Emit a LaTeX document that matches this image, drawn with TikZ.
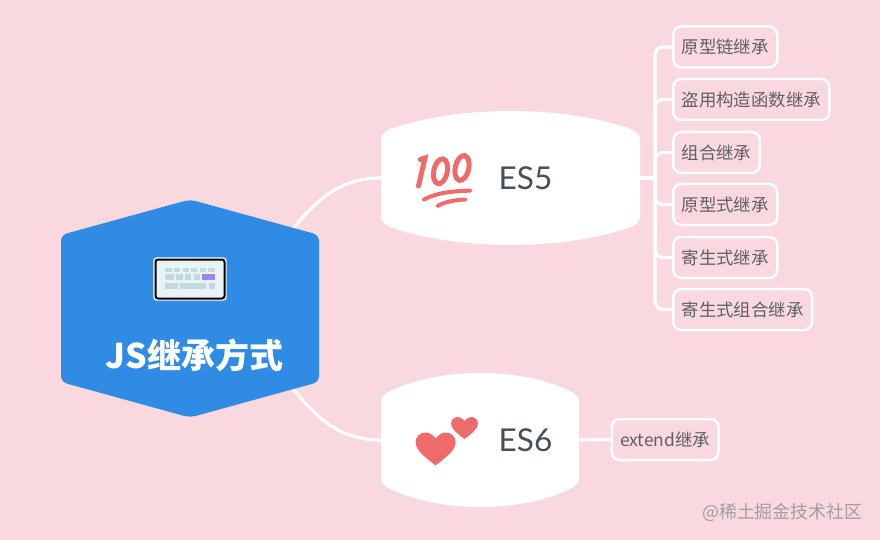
\documentclass[tikz,border=0pt]{standalone}
\usepackage{fontspec}
\usetikzlibrary{backgrounds}
\setmainfont{Lato}
\newfontfamily\cjk{Noto Sans CJK SC}
\definecolor{pagepink}{HTML}{F9D8DF}
\definecolor{rootblue}{HTML}{2F8BE4}
\definecolor{esgray}{HTML}{464F5C}
\definecolor{leafgray}{HTML}{5F5F66}
\definecolor{markgray}{HTML}{A39CA3}
\definecolor{iconred}{HTML}{F06A6A}
\definecolor{keyface}{HTML}{E9F3F3}
\definecolor{keycap}{HTML}{C2DADD}
\definecolor{keypurple}{HTML}{9B86F0}
\tikzset{
    link/.style={draw=white, line width=3.2pt},
    branch/.style={link, rounded corners=8pt},
    holder/.style={inner sep=0pt, outer sep=0pt},
    leaf/.style={draw=white, line width=2.5pt, rounded corners=8pt, anchor=west,
        minimum height=41pt, inner xsep=8.5pt, inner ysep=0pt, text=leafgray,
        font=\cjk\fontsize{17.4}{20}\selectfont},
    eslabel/.style={text=esgray, font=\fontsize{31.5}{36}\selectfont},
    hundred/.style={draw=iconred, line cap=round, line width=5pt},
    heart/.pic={
        \fill[iconred] (0,0) .. controls (-3,-4) and (-7,-6) .. (-10,-6)
            .. controls (-16,-6) and (-20,-1.5) .. (-20,4)
            .. controls (-20,12) and (-10,19) .. (0,27)
            .. controls (10,19) and (20,12) .. (20,4)
            .. controls (20,-1.5) and (16,-6) .. (10,-6)
            .. controls (7,-6) and (3,-4) .. cycle;
    }
}
% left, top, width of the white box
\newcommand{\barrelbox}[3]{
    \fill[white] (#1,#2+134-29) .. controls (#1,#2+134-24) and (#1+3,#2+134-21) .. (#1+9,#2+134-18)
        .. controls (#1+#3*0.3,#2+134+6) and (#1+#3*0.7,#2+134+6) .. (#1+#3-9,#2+134-18)
        .. controls (#1+#3-3,#2+134-21) and (#1+#3,#2+134-24) .. (#1+#3,#2+134-29)
        -- (#1+#3,#2+29) .. controls (#1+#3,#2+24) and (#1+#3-3,#2+21) .. (#1+#3-9,#2+18)
        .. controls (#1+#3*0.7,#2-6) and (#1+#3*0.3,#2-6) .. (#1+9,#2+18)
        .. controls (#1+3,#2+21) and (#1,#2+24) .. (#1,#2+29) -- cycle;
}
\begin{document}
\begin{tikzpicture}[x=1pt, y=-1pt]
    \useasboundingbox (0,0) rectangle (880,540);

    % Hexagon
    \fill[rootblue, rounded corners=6pt] (190,199.5) -- (319,235) -- (319,382) -- (190,417.5)
        -- (61,382) -- (61,235) -- cycle;
    \node[holder, minimum width=258pt, minimum height=217pt] (root) at (190,308.5) {};
    \node[text=white, font=\cjk\bfseries\fontsize{34}{40}\selectfont] (rootlabel) at (194.5,355) {JS继承方式};

    % Keyboard
    \fill[white, rounded corners=3.5pt] (153.3,257.3) rectangle (226.7,300.7);
    \filldraw[fill=keyface, draw=black, line width=2pt, rounded corners=2.5pt] (155.5,259.5) rectangle (224.5,298.5);
    \foreach \a/\b in {165/171.7, 174/180, 182.7/188.7, 191/197.3, 200/206, 208.3/215}
        \fill[keycap] (\a,268) rectangle (\b,271.7);
    \foreach \a/\b in {165/174, 176/182.7, 185/191.3, 193.7/200}
        \fill[keycap] (\a,274) rectangle (\b,280);
    \fill[keypurple] (202.3,274) rectangle (215,280);
    \foreach \a/\b in {165/177.7, 180/206, 208.7/215}
        \fill[keycap] (\a,282.7) rectangle (\b,289);

    % White boxes
    \barrelbox{381}{111}{259}
    \barrelbox{381}{373}{198}
    \node[holder, minimum width=259pt, minimum height=134pt] (es5) at (510.5,178) {};
    \node[holder, minimum width=198pt, minimum height=134pt] (es6) at (480,440) {};
    \node[eslabel] (es5label) at (525.5,178) {ES5};
    \node[eslabel] (es6label) at (525.5,440) {ES6};

    % 100
    \draw[hundred] (420.5,159.5) -- (425,158) -- (418.5,186);
    \draw[hundred] (440.5,171.3) ellipse [x radius=6.8, y radius=12.6, rotate=-12];
    \draw[hundred] (462,168) ellipse [x radius=6.8, y radius=12.6, rotate=-12];
    \draw[hundred, line width=4pt] (424,199.5) .. controls (436,193) and (452,191) .. (470,190.7);
    \draw[hundred, line width=4pt] (438,205.7) .. controls (446,201.5) and (455,200) .. (465,199.5);

    % Hearts
    \pic at (435.6,438.5) {heart};
    \pic[scale=0.67] at (464.5,421) {heart};

    % Leaves
    \node[leaf] (chain) at (672,47) {原型链继承};
    \node[leaf] (ctor) at (672,99.5) {盗用构造函数继承};
    \node[leaf] (combo) at (672,152.5) {组合继承};
    \node[leaf] (proto) at (672,204.5) {原型式继承};
    \node[leaf] (para) at (672,257.5) {寄生式继承};
    \node[leaf] (paracombo) at (672,309.5) {寄生式组合继承};
    \node[leaf] (extend) at (610.5,439.5) {extend继承};

    % Watermark
    \node[text=markgray, anchor=east, inner sep=0pt, font=\cjk\fontsize{17.9}{20}\selectfont] (mark) at (862.5,512) {@稀土掘金技术社区};

    % Connectors
    \coordinate (fork) at (655,178);
    \begin{scope}[on background layer]
        \fill[pagepink] (0,0) rectangle (880,540);
        \draw[link] (root.center) .. controls (290,280) and (292,178) .. (es5.west);
        \draw[link] (root.center) .. controls (290,337) and (292,440) .. (es6.west);
        \draw[link] (es5.east) -- (fork);
        \foreach \leafname in {chain, ctor, combo, proto, para, paracombo}
            \draw[branch] (fork) |- (\leafname.west);
        \draw[link] (es6.east) -- (extend.west);
    \end{scope}
\end{tikzpicture}
\end{document}
